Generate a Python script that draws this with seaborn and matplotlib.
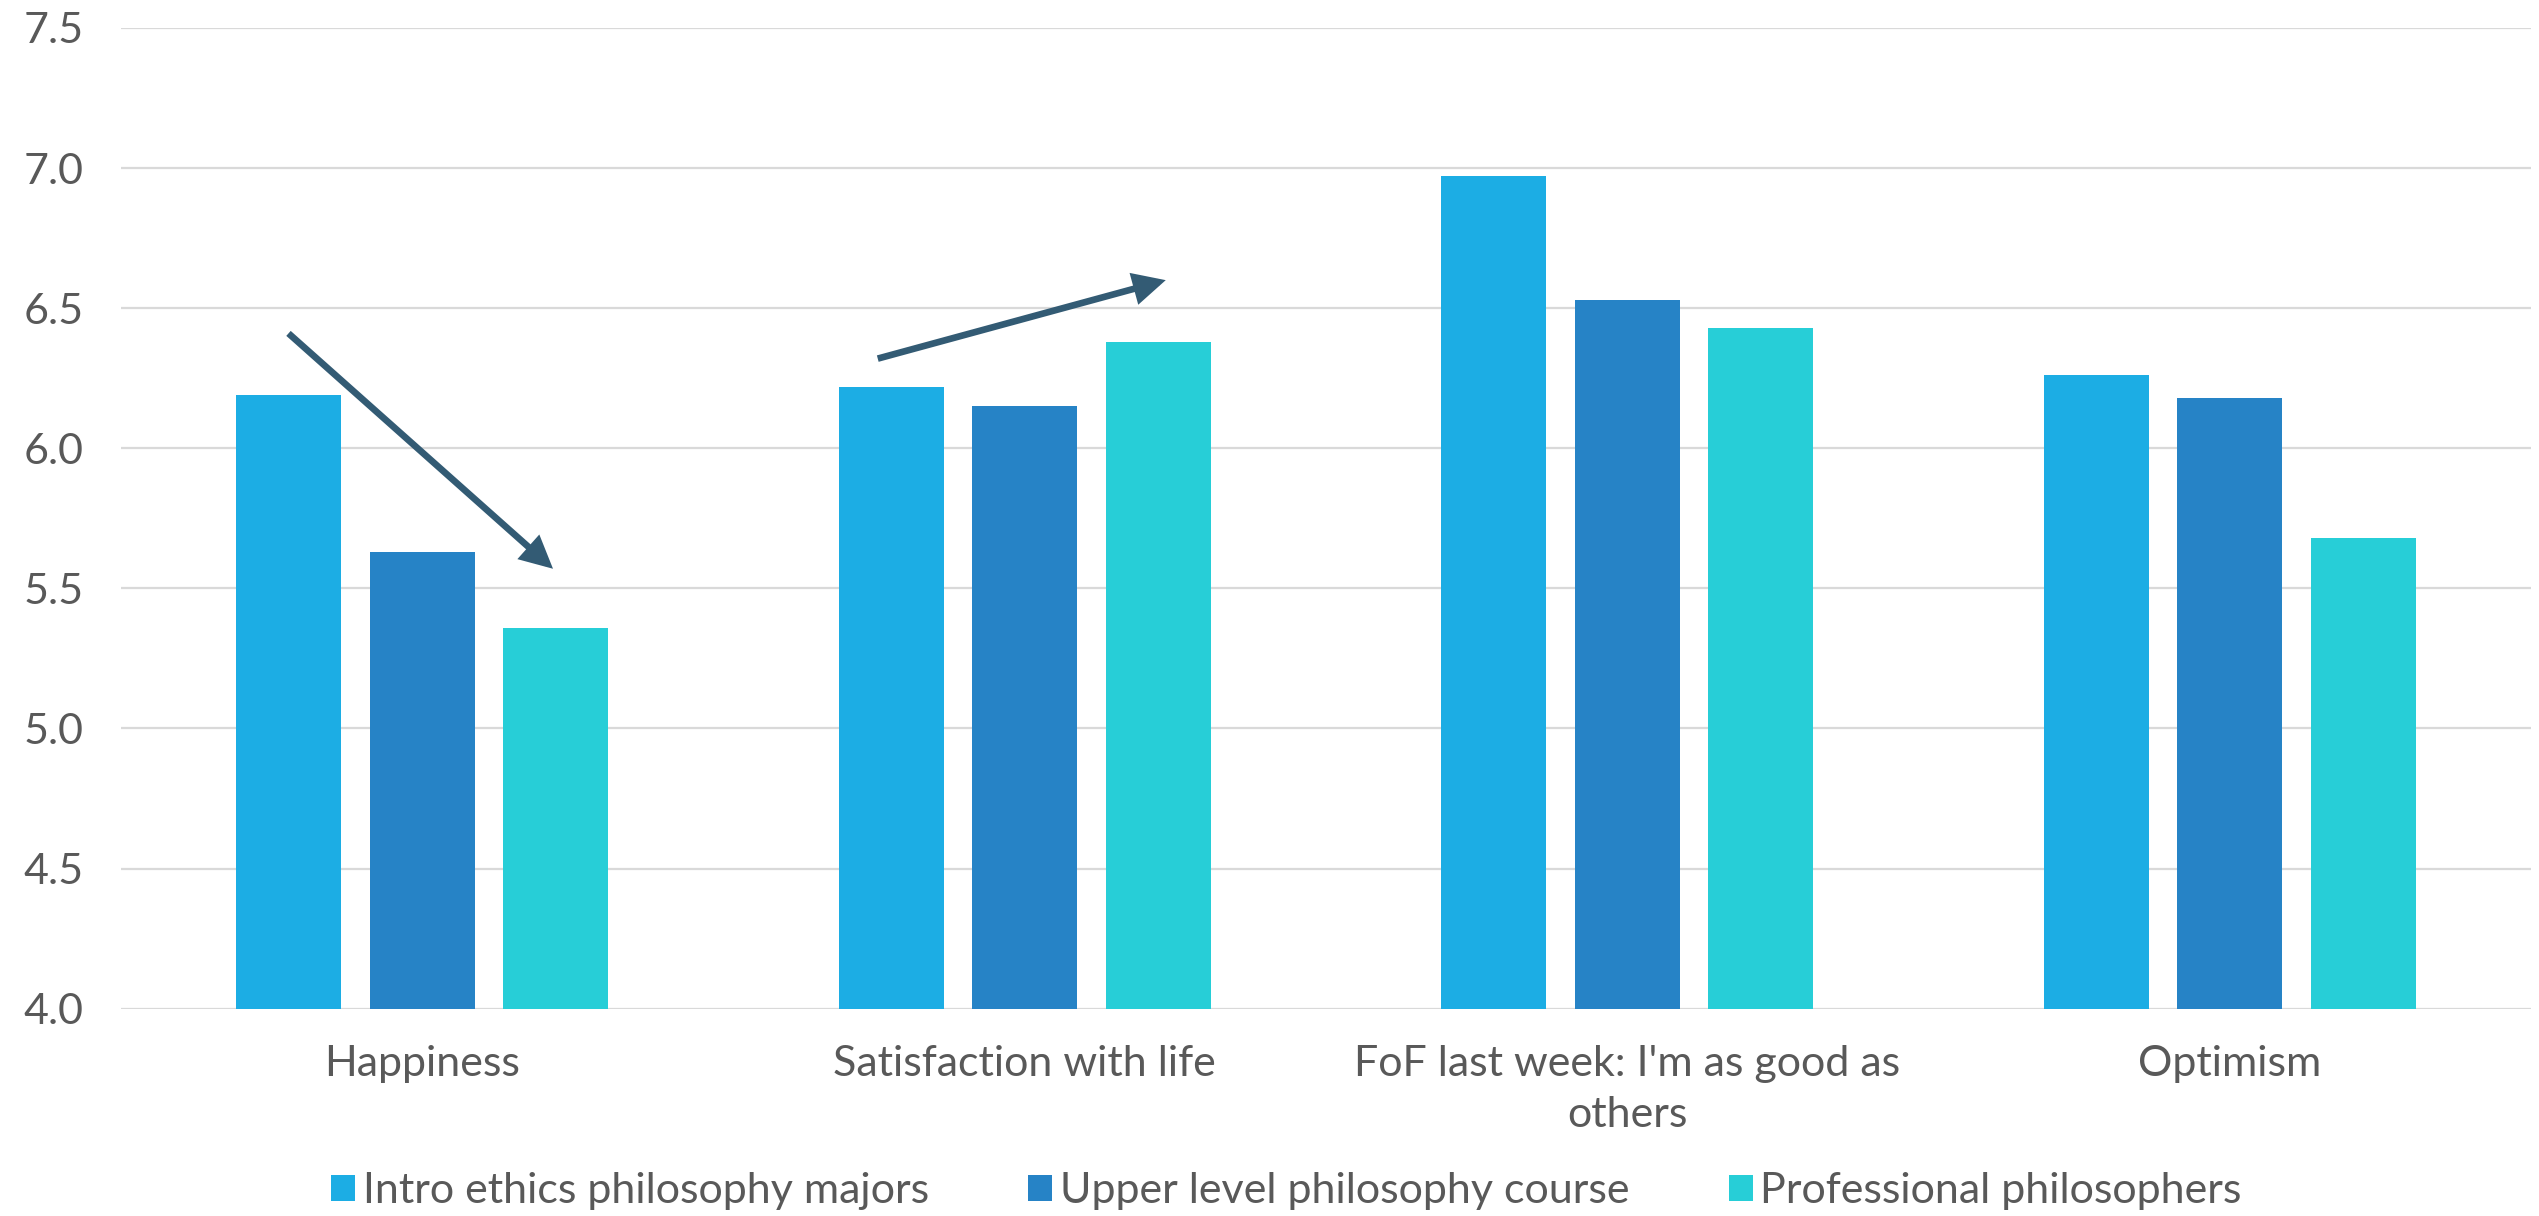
import matplotlib
matplotlib.use("Agg")
import matplotlib.pyplot as plt
from matplotlib.patches import Patch
import pandas as pd
import seaborn as sns

# Survey means per measure and respondent group
categories = [
    "Happiness",
    "Satisfaction with life",
    "FoF last week: I'm as good as\nothers",
    "Optimism",
]
groups = [
    "Intro ethics philosophy majors",
    "Upper level philosophy course",
    "Professional philosophers",
]
intro_ethics = [6.19, 6.22, 6.97, 6.26]
upper_level = [5.63, 6.15, 6.53, 6.18]
professional = [5.36, 6.38, 6.43, 5.68]
colors = ["#1CADE4", "#2683C6", "#27CED7"]
y_ticks = [4.0, 4.5, 5.0, 5.5, 6.0, 6.5, 7.0, 7.5]

# Trend arrows: (category index, start x offset, start y, end x offset, end y)
trend_arrows = [
    (0, -0.222, 6.41, 0.217, 5.57),
    (1, -0.244, 6.32, 0.234, 6.60),
]

TEXT = "#595959"
GRID = "#D9D9D9"
ARROW = "#335B74"
FS = 31

sns.set_theme(style="white")
plt.rcParams["font.family"] = ["Lato", "DejaVu Sans"]

df = pd.DataFrame({
    "measure": categories * 3,
    "group": [g for g in groups for _ in categories],
    "value": intro_ethics + upper_level + professional,
})

fig = plt.figure(figsize=(25.39, 12.16), dpi=100)
ax = fig.add_axes([0.04766, 0.1705, 0.9492, 0.8065])

sns.barplot(
    data=df, x="measure", y="value", hue="group",
    order=categories, hue_order=groups, palette=colors,
    saturation=1, width=0.665, gap=0.213, legend=False,
    edgecolor="none", ax=ax,
)

ax.set_xlim(-0.5, len(categories) - 0.5)
ax.set_ylim(4.0, 7.5)
ax.set_yticks(y_ticks)
ax.yaxis.set_major_formatter("{x:.1f}")
ax.set_xlabel("")
ax.set_ylabel("")
for side in ax.spines.values():
    side.set_visible(False)
ax.yaxis.grid(True, color=GRID, linewidth=1.6)
ax.xaxis.grid(False)
ax.set_axisbelow(True)
ax.tick_params(axis="y", length=0, labelsize=FS, colors=TEXT, pad=27)
ax.tick_params(axis="x", length=0, labelsize=FS, colors=TEXT, pad=26)
for lbl in ax.get_xticklabels():
    lbl.set_linespacing(1.43)

for ci, dx0, y0, dx1, y1 in trend_arrows:
    ax.annotate(
        "", xy=(ci + dx1, y1), xytext=(ci + dx0, y0),
        arrowprops=dict(
            arrowstyle="-|>,head_length=0.4,head_width=0.2",
            mutation_scale=40, color=ARROW, lw=4.8,
            shrinkA=0, shrinkB=0, capstyle="butt", joinstyle="miter",
        ),
    )

handles = [Patch(facecolor=c, edgecolor="none") for c in colors]
fig.legend(
    handles, groups, loc="center", bbox_to_anchor=(0.5067, 0.0206),
    ncol=3, frameon=False, fontsize=FS, labelcolor=TEXT,
    handlelength=0.56, handleheight=0.56, handletextpad=0.18,
    columnspacing=2.3, borderaxespad=0, borderpad=0,
)

fig.savefig("out.png", dpi=100)
